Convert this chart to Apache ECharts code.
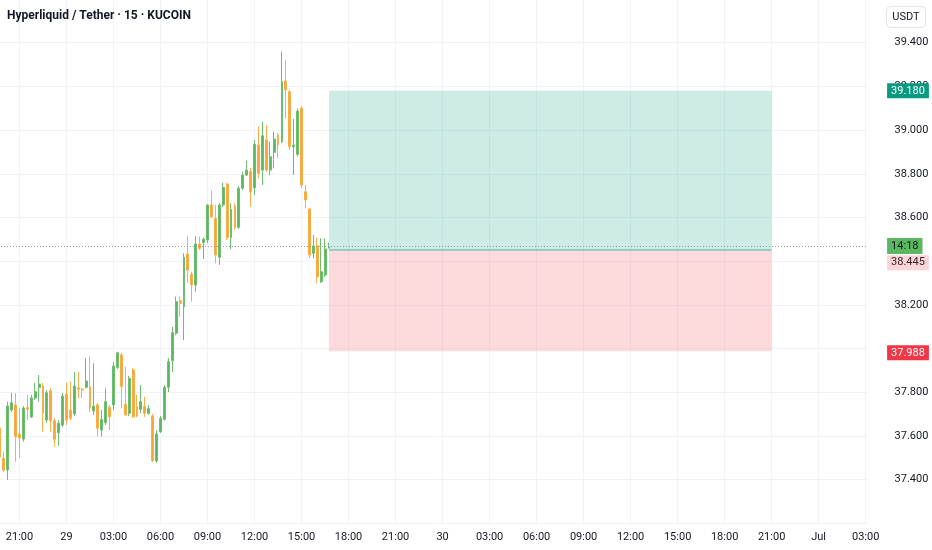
<!DOCTYPE html>
<html lang="en">
<head>
<meta charset="UTF-8">
<title>Hyperliquid / Tether 15m</title>
<script src="https://cdn.jsdelivr.net/npm/echarts@6.0.0/dist/echarts.min.js"></script>
<style>
  html, body { margin: 0; padding: 0; background: #fff; }
  #chart { width: 932px; height: 550px; }
</style>
</head>
<body>
<div id="chart"></div>
<script>
// 15 minute bars, the first slot is 19:45 on 28 June
var startTime = '2025-06-28T19:45:00Z';
var slotCount = 222;
var dayLabels = { '06-29': '29', '06-30': '30', '07-01': 'Jul' };

// [open, close, low, high]
var candles = [
    [37.637, 37.504, 37.481, 37.655], [37.498, 37.444, 37.435, 37.527], [37.444, 37.737, 37.399, 37.757],
    [37.719, 37.752, 37.710, 37.798], [37.742, 37.597, 37.482, 37.797], [37.609, 37.591, 37.499, 37.728],
    [37.586, 37.728, 37.574, 37.737], [37.730, 37.722, 37.673, 37.788], [37.687, 37.774, 37.682, 37.788],
    [37.774, 37.803, 37.765, 37.843], [37.821, 37.838, 37.757, 37.879], [37.829, 37.705, 37.620, 37.843],
    [37.673, 37.798, 37.660, 37.810], [37.807, 37.670, 37.620, 37.820], [37.670, 37.585, 37.551, 37.682],
    [37.615, 37.658, 37.554, 37.673], [37.650, 37.783, 37.641, 37.797], [37.792, 37.673, 37.650, 37.843],
    [37.719, 37.681, 37.673, 37.849], [37.701, 37.829, 37.692, 37.894], [37.821, 37.814, 37.773, 37.894],
    [37.815, 37.811, 37.774, 37.820], [37.823, 37.852, 37.818, 37.956], [37.826, 37.727, 37.710, 37.963],
    [37.714, 37.737, 37.696, 37.933], [37.742, 37.635, 37.597, 37.751], [37.627, 37.676, 37.597, 37.719],
    [37.661, 37.757, 37.650, 37.818], [37.731, 37.688, 37.627, 37.742], [37.742, 37.920, 37.719, 37.939],
    [37.914, 37.981, 37.907, 37.986], [37.971, 37.826, 37.727, 37.980], [37.746, 37.696, 37.692, 37.917],
    [37.704, 37.864, 37.692, 37.875], [37.902, 37.688, 37.682, 37.910], [37.734, 37.692, 37.686, 37.788],
    [37.722, 37.757, 37.704, 37.833], [37.737, 37.704, 37.687, 37.780], [37.704, 37.725, 37.696, 37.742],
    [37.692, 37.486, 37.481, 37.701], [37.486, 37.609, 37.477, 37.627], [37.620, 37.681, 37.614, 37.692],
    [37.676, 37.823, 37.673, 37.833], [37.823, 37.940, 37.801, 37.957], [37.945, 38.073, 37.893, 38.099],
    [38.070, 38.215, 38.062, 38.238], [38.219, 38.207, 38.146, 38.238], [38.192, 38.418, 38.039, 38.436],
    [38.433, 38.360, 38.299, 38.515], [38.341, 38.291, 38.215, 38.351], [38.291, 38.479, 38.260, 38.515],
    [38.479, 38.459, 38.451, 38.512], [38.485, 38.500, 38.409, 38.509], [38.497, 38.657, 38.482, 38.662],
    [38.657, 38.604, 38.598, 38.723], [38.596, 38.428, 38.390, 38.657], [38.418, 38.657, 38.383, 38.666],
    [38.657, 38.738, 38.648, 38.759], [38.753, 38.509, 38.497, 38.759], [38.509, 38.637, 38.455, 38.665],
    [38.653, 38.555, 38.543, 38.665], [38.555, 38.734, 38.548, 38.744], [38.734, 38.794, 38.726, 38.810],
    [38.794, 38.817, 38.790, 38.860], [38.810, 38.718, 38.649, 38.827], [38.736, 38.935, 38.703, 38.955],
    [38.932, 38.802, 38.779, 39.016], [38.817, 38.974, 38.749, 39.038], [38.955, 38.817, 38.808, 39.023],
    [38.817, 38.878, 38.794, 38.947], [38.898, 38.959, 38.825, 38.993], [38.978, 38.932, 38.871, 38.987],
    [38.947, 39.222, 38.941, 39.359], [39.225, 39.184, 39.054, 39.321], [39.176, 38.924, 38.909, 39.184],
    [38.924, 38.932, 38.795, 39.051], [38.889, 39.087, 38.878, 39.100], [39.100, 38.749, 38.734, 39.110],
    [38.718, 38.680, 38.642, 38.749], [38.639, 38.428, 38.415, 38.644], [38.436, 38.470, 38.413, 38.520],
    [38.470, 38.329, 38.299, 38.508], [38.306, 38.352, 38.300, 38.505], [38.337, 38.456, 38.328, 38.505],
    [38.460, 38.465, 38.459, 38.485]
];

// long position drawing
var targetPrice = 39.180;
var entryPrice = 38.445;
var stopPrice = 37.988;
var lastPrice = 38.465;
var countdown = '14:18';
var zoneStart = '06-29 16:45';
var zoneEnd = '06-30 21:00';

var priceMin = 37.2;
var priceMax = 39.6;
var priceStep = 0.2;

function pad(n) { return (n < 10 ? '0' : '') + n; }

var categories = [];
var t0 = Date.parse(startTime);
for (var i = 0; i < slotCount; i++) {
    var d = new Date(t0 + i * 15 * 60 * 1000);
    categories.push(pad(d.getUTCMonth() + 1) + '-' + pad(d.getUTCDate()) + ' ' +
        pad(d.getUTCHours()) + ':' + pad(d.getUTCMinutes()));
}

// a tick every three hours, on the hour
function everyThreeHours(index, value) {
    return value.slice(-2) === '00' && parseInt(value.slice(6, 8), 10) % 3 === 0;
}

var font = 'Roboto, "Liberation Sans", sans-serif';
var textDark = '#131722';
var gridColor = '#f0f3fa';

function priceTag(value, bg, fg, text, dy) {
    return {
        yAxis: value,
        lineStyle: { color: 'rgba(0,0,0,0)', width: 0 },
        label: {
            show: true,
            position: 'end',
            distance: 19.5,
            formatter: text,
            backgroundColor: bg,
            color: fg,
            fontFamily: font,
            fontSize: 11,
            lineHeight: 11,
            padding: [2, 4, 2, 4],
            offset: [0, dy || 0]
        }
    };
}

var chart = echarts.init(document.getElementById('chart'));
var option = {
    animation: false,
    backgroundColor: '#ffffff',
    title: {
        text: 'Hyperliquid / Tether · 15 · KUCOIN',
        left: 7,
        top: 9,
        padding: 0,
        textStyle: { fontFamily: font, fontSize: 12, fontWeight: 'bold', color: textDark, lineHeight: 14 }
    },
    grid: { left: -2.04, right: 64.4, top: -1, bottom: 26.6, containLabel: false, outerBoundsMode: 'none' },
    xAxis: {
        type: 'category',
        data: categories,
        boundaryGap: true,
        axisLine: { show: false },
        axisTick: { show: false, alignWithLabel: true },
        splitLine: {
            show: true,
            alignWithLabel: true,
            interval: everyThreeHours,
            lineStyle: { color: gridColor, width: 1 }
        },
        axisLabel: {
            interval: everyThreeHours,
            margin: 8,
            color: textDark,
            fontFamily: font,
            fontSize: 11,
            formatter: function (value) {
                var day = value.slice(0, 5);
                var time = value.slice(6);
                if (time === '00:00' && dayLabels[day]) return dayLabels[day];
                return time;
            }
        }
    },
    yAxis: {
        type: 'value',
        position: 'right',
        min: priceMin,
        max: priceMax,
        interval: priceStep,
        scale: true,
        axisLine: { show: false },
        axisTick: { show: false },
        splitLine: { show: true, lineStyle: { color: gridColor, width: 1 } },
        axisLabel: {
            margin: 27,
            color: textDark,
            fontFamily: font,
            fontSize: 11,
            showMinLabel: false,
            showMaxLabel: false,
            formatter: function (v) {
                // the stop tag sits over this tick label
                if (Math.abs(v - stopPrice) < 0.02) return '';
                return v.toFixed(3);
            }
        }
    },
    graphic: [{
        type: 'group',
        right: 6,
        top: 6,
        children: [{
            type: 'rect',
            shape: { x: 0, y: 0, width: 39, height: 21, r: 4 },
            style: { fill: '#ffffff', stroke: '#e0e3eb', lineWidth: 1 }
        }, {
            type: 'text',
            x: 19.5,
            y: 10.5,
            style: { text: 'USDT', fill: textDark, font: '11px ' + font, align: 'center', verticalAlign: 'middle' }
        }]
    }],
    series: [{
        type: 'candlestick',
        data: candles,
        barWidth: 2.4,
        clip: false,
        itemStyle: {
            color: '#5cb860',
            color0: '#f8a532',
            borderColor: '#6cbf6f',
            borderColor0: '#f9ae48',
            borderWidth: 1
        },
        markArea: {
            silent: true,
            data: [
                [{ xAxis: zoneStart, yAxis: targetPrice, itemStyle: { color: 'rgba(8,153,129,0.2)' } },
                 { xAxis: zoneEnd, yAxis: entryPrice + 0.005 }],
                [{ xAxis: zoneStart, yAxis: entryPrice + 0.005, itemStyle: { color: 'rgba(242,54,69,0.18)' } },
                 { xAxis: zoneEnd, yAxis: stopPrice }]
            ]
        },
        markLine: {
            silent: true,
            symbol: ['none', 'none'],
            animation: false,
            data: [
                [{ xAxis: zoneStart, yAxis: entryPrice + 0.008, lineStyle: { color: 'rgba(8,153,129,0.45)', width: 1.5, type: 'solid' }, label: { show: false } },
                 { xAxis: zoneEnd, yAxis: entryPrice + 0.008 }],
                {
                    yAxis: lastPrice,
                    lineStyle: { color: '#9598a1', width: 1, type: [1, 2] },
                    label: {
                        show: true, position: 'end', distance: 19.5, formatter: countdown,
                        backgroundColor: '#5cb860', color: textDark, fontFamily: font, fontSize: 11,
                        lineHeight: 12, padding: [2, 4, 2, 4]
                    }
                },
                priceTag(targetPrice, '#089981', '#ffffff', targetPrice.toFixed(3), 0),
                priceTag(entryPrice, '#fbd5d8', '#3b2326', entryPrice.toFixed(3), 12.4),
                priceTag(stopPrice, '#f23645', '#ffffff', stopPrice.toFixed(3), 2)
            ]
        }
    }]
};
chart.setOption(option);
</script>
</body>
</html>
